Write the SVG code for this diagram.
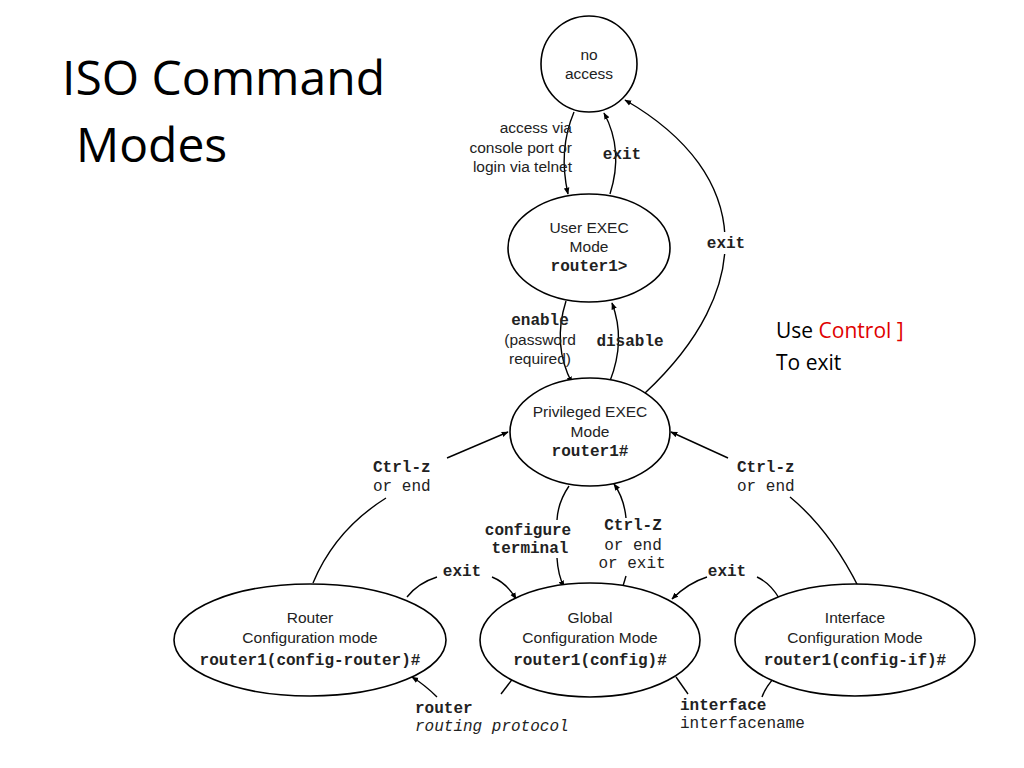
<svg xmlns="http://www.w3.org/2000/svg" width="1024" height="768" viewBox="0 0 1024 768">
<style>
.node{fill:#fff;stroke:#000;stroke-width:1.6}
.t{font-family:"Liberation Sans",Arial,sans-serif;font-size:15.5px;fill:#222;text-anchor:middle}
.m{font-family:"Liberation Mono","Courier New",monospace;font-size:16px;font-weight:bold;fill:#222;text-anchor:middle}
.mr{font-family:"Liberation Mono","Courier New",monospace;font-size:16px;fill:#222}
.lab{font-family:"Liberation Sans",Arial,sans-serif;font-size:15.5px;fill:#222;text-anchor:end}
.c{fill:none;stroke:#000;stroke-width:1.4}
.title{font-family:"Open Sans","Liberation Sans",sans-serif;font-size:48px;fill:#000}
.note{font-family:"Open Sans","Liberation Sans",sans-serif;font-size:21px;fill:#000}
</style>
<defs>
<marker id="ah" viewBox="0 0 10 10" refX="9" refY="5" markerWidth="7" markerHeight="7" orient="auto" markerUnits="userSpaceOnUse">
<path d="M0,1 L10,5 L0,9 Z" fill="#000"/>
</marker>
</defs>
<rect width="1024" height="768" fill="#fff"/>
<text class="title" x="62" y="95">ISO Command</text>
<text class="title" x="76" y="162">Modes</text>
<text class="note" x="776" y="338">Use <tspan fill="#e00000">Control ]</tspan></text>
<text class="note" x="776" y="370">To exit</text>

<g id="connectors">
<path class="c" d="M574 112 Q558 150 568 194" marker-end="url(#ah)"/>
<path class="c" d="M610 194 Q624 150 604 113" marker-end="url(#ah)"/>
<path class="c" d="M645 393 C755 290 755 175 625 100" marker-end="url(#ah)"/>
<path class="c" d="M566 301 Q552 345 572 383" marker-end="url(#ah)"/>
<path class="c" d="M610 381 Q626 340 612 303" marker-end="url(#ah)"/>
<path class="c" d="M313 583 Q335 530 386 498"/>
<path class="c" d="M447 458 L508 432" marker-end="url(#ah)"/>
<path class="c" d="M859 588 Q830 530 790 497"/>
<path class="c" d="M728 458 L671 432" marker-end="url(#ah)"/>
<path class="c" d="M569 486 Q558 502 557 520"/>
<path class="c" d="M557 558 Q558 575 564 587" marker-end="url(#ah)"/>
<path class="c" d="M623 586 L626 576"/>
<path class="c" d="M626 518 Q624 498 614 484" marker-end="url(#ah)"/>
<path class="c" d="M407 597 Q418 583 437 577"/>
<path class="c" d="M492 577 Q507 583 516 599" marker-end="url(#ah)"/>
<path class="c" d="M779 598 Q770 583 757 577"/>
<path class="c" d="M707 577 Q688 583 672 599" marker-end="url(#ah)"/>
<path class="c" d="M514 677 L501 694"/>
<path class="c" d="M437 697 Q425 685 412 677" marker-end="url(#ah)"/>
<path class="c" d="M676 677 L688 694"/>
<path class="c" d="M762 697 Q766 686 776 676" marker-end="url(#ah)"/>
<rect x="704" y="232" width="44" height="22" fill="#fff"/>
</g>

<g id="labels">
<text class="lab" x="572" y="133">access via</text>
<text class="lab" x="572" y="153">console port or</text>
<text class="lab" x="572" y="172">login via telnet</text>
<text class="m" x="622" y="159">exit</text>
<text class="m" x="726" y="248">exit</text>
<text class="m" x="540" y="325">enable</text>
<text class="t" x="540" y="345">(password</text>
<text class="t" x="540" y="364">required)</text>
<text class="m" x="630" y="346">disable</text>
<text class="m" x="373" y="472" style="text-anchor:start">Ctrl-z</text>
<text class="mr" x="373" y="491">or end</text>
<text class="m" x="737" y="472" style="text-anchor:start">Ctrl-z</text>
<text class="mr" x="737" y="491">or end</text>
<text class="m" x="528" y="535">configure</text>
<text class="m" x="530" y="553">terminal</text>
<text class="m" x="633" y="530">Ctrl-Z</text>
<text class="mr" x="633" y="550" style="text-anchor:middle">or end</text>
<text class="mr" x="632" y="568" style="text-anchor:middle">or exit</text>
<text class="m" x="462" y="576">exit</text>
<text class="m" x="727" y="576">exit</text>
<text class="m" x="415" y="713" style="text-anchor:start">router</text>
<text class="mr" x="415" y="731" font-style="italic">routing protocol</text>
<text class="m" x="680" y="710" style="text-anchor:start">interface</text>
<text class="mr" x="680" y="728">interfacename</text>
</g>

<g id="no-access">
<circle class="node" cx="589" cy="64" r="48"/>
<text class="t" x="589" y="60">no</text>
<text class="t" x="589" y="79">access</text>
</g>
<g id="user-exec">
<ellipse class="node" cx="589" cy="248" rx="81" ry="54"/>
<text class="t" x="589" y="233">User EXEC</text>
<text class="t" x="589" y="252">Mode</text>
<text class="m" x="589" y="271">router1&gt;</text>
</g>
<g id="privileged-exec">
<ellipse class="node" cx="590" cy="432" rx="80" ry="54"/>
<text class="t" x="590" y="417">Privileged EXEC</text>
<text class="t" x="590" y="437">Mode</text>
<text class="m" x="590" y="456">router1#</text>
</g>
<g id="router-config">
<ellipse class="node" cx="310" cy="640" rx="136" ry="56"/>
<text class="t" x="310" y="623">Router</text>
<text class="t" x="310" y="643">Configuration mode</text>
<text class="m" x="310" y="665">router1(config-router)#</text>
</g>
<g id="global-config">
<ellipse class="node" cx="590" cy="640" rx="110" ry="57"/>
<text class="t" x="590" y="623">Global</text>
<text class="t" x="590" y="643">Configuration Mode</text>
<text class="m" x="590" y="665">router1(config)#</text>
</g>
<g id="interface-config">
<ellipse class="node" cx="855" cy="640" rx="120" ry="56"/>
<text class="t" x="855" y="623">Interface</text>
<text class="t" x="855" y="643">Configuration Mode</text>
<text class="m" x="855" y="665">router1(config-if)#</text>
</g>
</svg>
